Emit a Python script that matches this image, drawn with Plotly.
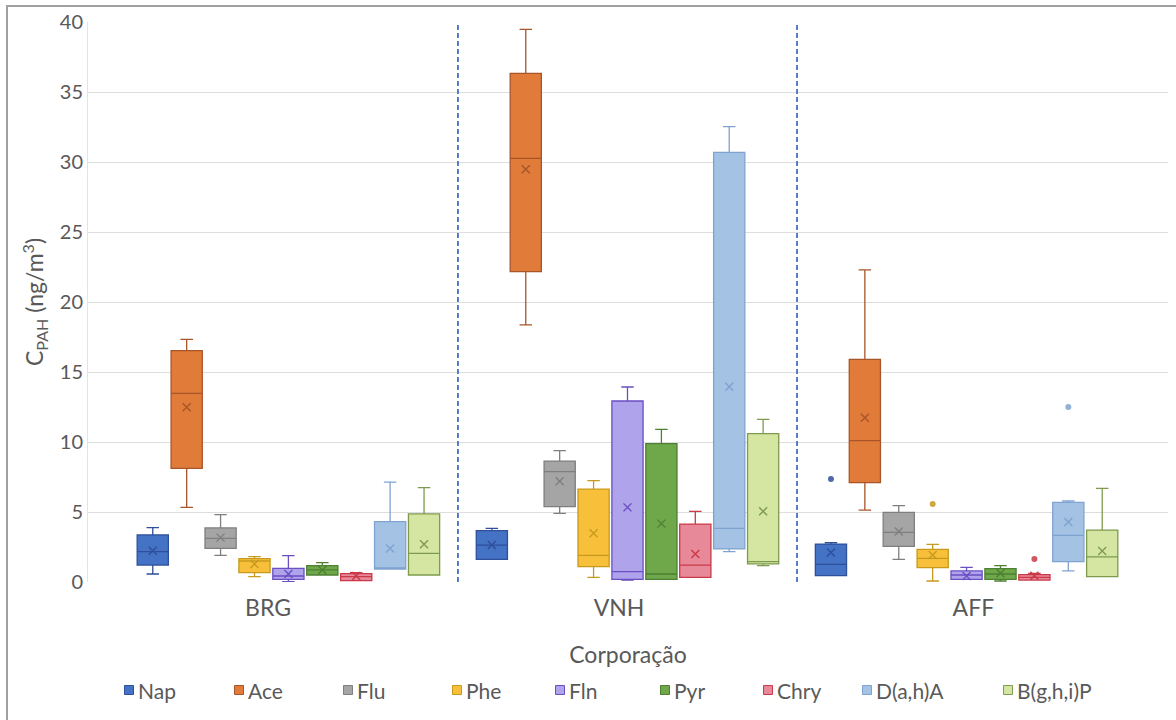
import plotly.graph_objects as go

# Sites (x categories) and PAH compounds (series)
corporacoes = ["BRG", "VNH", "AFF"]
pah = ["Nap", "Ace", "Flu", "Phe", "Fln", "Pyr", "Chry", "D(a,h)A", "B(g,h,i)P"]

# Box statistics in ng/m3, one row per compound, columns follow `corporacoes`
lower = [
    [0.57, 1.62, 0.45],
    [5.33, 18.36, 5.14],
    [1.90, 4.90, 1.62],
    [0.38, 0.33, 0.07],
    [0.02, 0.14, 0.19],
    [0.50, 0.19, 0.07],
    [0.10, 0.33, 0.14],
    [0.93, 2.17, 0.79],
    [0.50, 1.17, 0.38],
]
q1 = [
    [1.21, 1.62, 0.45],
    [8.12, 22.17, 7.10],
    [2.40, 5.38, 2.55],
    [0.67, 1.10, 1.02],
    [0.19, 0.19, 0.19],
    [0.50, 0.19, 0.19],
    [0.10, 0.33, 0.14],
    [0.93, 2.36, 1.45],
    [0.50, 1.29, 0.38],
]
median = [
    [2.17, 2.64, 1.26],
    [13.48, 30.26, 10.10],
    [3.12, 7.88, 3.55],
    [1.50, 1.90, 1.69],
    [0.43, 0.74, 0.50],
    [0.86, 0.57, 0.57],
    [0.38, 1.21, 0.33],
    [1.00, 3.83, 3.33],
    [2.05, 1.45, 1.79],
]
q3 = [
    [3.36, 3.67, 2.71],
    [16.52, 36.33, 15.90],
    [3.86, 8.64, 4.98],
    [1.67, 6.64, 2.33],
    [0.98, 12.93, 0.79],
    [1.17, 9.88, 0.95],
    [0.60, 4.14, 0.52],
    [4.31, 30.69, 5.69],
    [4.86, 10.60, 3.71],
]
upper = [
    [3.88, 3.83, 2.81],
    [17.33, 39.48, 22.29],
    [4.81, 9.38, 5.45],
    [1.81, 7.24, 2.69],
    [1.88, 13.93, 1.05],
    [1.38, 10.90, 1.17],
    [0.67, 5.05, 0.62],
    [7.14, 32.52, 5.79],
    [6.74, 11.62, 6.69],
]
mean = [
    [2.24, 2.64, 2.10],
    [12.48, 29.48, 11.74],
    [3.17, 7.19, 3.60],
    [1.29, 3.48, 1.93],
    [0.57, 5.33, 0.43],
    [0.86, 4.17, 0.62],
    [0.43, 2.00, 0.45],
    [2.40, 13.95, 4.29],
    [2.69, 5.05, 2.21],
]
# Outliers: (compound, site, value)
outlier_pah = ["Nap", "Phe", "Chry", "D(a,h)A"]
outlier_site = ["AFF", "AFF", "AFF", "AFF"]
outlier_value = [7.36, 5.57, 1.64, 12.5]

fill_colors = ["#4472C4", "#E07B39", "#A5A5A5", "#F8C03A", "#AFA3EC",
               "#6FA84A", "#E8899A", "#A3C2E4", "#D5E6A2"]
line_colors = ["#2F4F9A", "#A8552A", "#7F7F7F", "#C79A1E", "#6A4FC2",
               "#4E7F32", "#C93A48", "#7FA3D0", "#7E9A4E"]

n = len(pah)
slot = 0.1          # horizontal slot per compound within a site
box_width = 0.092

fig = go.Figure()
for j, name in enumerate(pah):
    xs = [i + (j - (n - 1) / 2) * slot for i in range(len(corporacoes))]
    fig.add_trace(go.Box(
        name=name, x=xs,
        q1=q1[j], median=median[j], q3=q3[j],
        lowerfence=lower[j], upperfence=upper[j],
        width=box_width, whiskerwidth=0.4,
        fillcolor=fill_colors[j],
        line=dict(color=line_colors[j], width=1.3),
        hoverinfo="skip", showlegend=False,
    ))
    fig.add_trace(go.Scatter(
        x=xs, y=mean[j], mode="markers", showlegend=False, hoverinfo="skip",
        marker=dict(symbol="x-thin", size=8,
                    line=dict(color=line_colors[j], width=1.4)),
    ))
    ox = [corporacoes.index(s) + (j - (n - 1) / 2) * slot
          for p, s in zip(outlier_pah, outlier_site) if p == name]
    oy = [v for p, v in zip(outlier_pah, outlier_value) if p == name]
    if oy:
        fig.add_trace(go.Scatter(
            x=ox, y=oy, mode="markers", showlegend=False, hoverinfo="skip",
            marker=dict(symbol="circle", size=6, color=line_colors[j],
                        opacity=0.85),
        ))

# Dashed separators between sites
for b in [0.5, 1.5]:
    fig.add_shape(type="line", xref="x", yref="paper", x0=b, x1=b, y0=0, y1=1,
                  line=dict(color="#4472C4", width=1.8, dash="5px,3px"))

# Outer chart frame (only its top and left edges fall inside the page)
fig.add_shape(type="rect", xref="paper", yref="paper",
              x0=-0.075, x1=1.04, y0=-0.32, y1=1.0286,
              line=dict(color="#A0A0A0", width=2), layer="below")

# Legend row drawn as swatch + label pairs below the axis title
plot_left, plot_width, plot_bottom, plot_height = 88, 1080, 582, 560
legend_swatch_px = [129, 239, 348, 457, 560, 665, 768, 867, 1008]
legend_row_px = 690
ly = (plot_bottom - legend_row_px) / plot_height
half_w, half_h = 4.5 / plot_width, 4.5 / plot_height
for j, name in enumerate(pah):
    lx = (legend_swatch_px[j] - plot_left) / plot_width
    fig.add_shape(type="rect", xref="paper", yref="paper",
                  x0=lx - half_w, x1=lx + half_w, y0=ly - half_h, y1=ly + half_h,
                  fillcolor=fill_colors[j],
                  line=dict(color=line_colors[j], width=1))
    fig.add_annotation(xref="paper", yref="paper", x=lx + 7 / plot_width, y=ly,
                       xanchor="left", yanchor="middle", showarrow=False,
                       text=name, font=dict(size=21, color="#595959"))

label_shift = [-0.06, -0.025, 0.02]
fig.update_layout(
    width=1176, height=720,
    margin=dict(l=88, r=8, t=22, b=138, autoexpand=False),
    paper_bgcolor="white", plot_bgcolor="white",
    font=dict(family="Lato, 'Open Sans', sans-serif", color="#595959", size=20),
    boxmode="overlay",
    showlegend=False,
    xaxis=dict(
        range=[-0.591, 2.594], showgrid=False, zeroline=False,
        tickmode="array",
        tickvals=[i + s for i, s in enumerate(label_shift)],
        ticktext=corporacoes, tickfont=dict(size=23), ticks="",
        ticklabelstandoff=10,
        title=dict(text="Corporação", font=dict(size=23), standoff=26),
        automargin=False,
    ),
    yaxis=dict(
        range=[0, 40], dtick=5, showgrid=True, gridcolor="#DDDDDD",
        gridwidth=1, zeroline=False, showline=True, linecolor="#E4E4E4",
        ticks="", tickfont=dict(size=20), automargin=False,
        title=dict(text="C<sub>PAH</sub> (ng/m<sup>3</sup>)",
                   font=dict(size=23), standoff=9),
    ),
)

fig.write_html("out.html")
